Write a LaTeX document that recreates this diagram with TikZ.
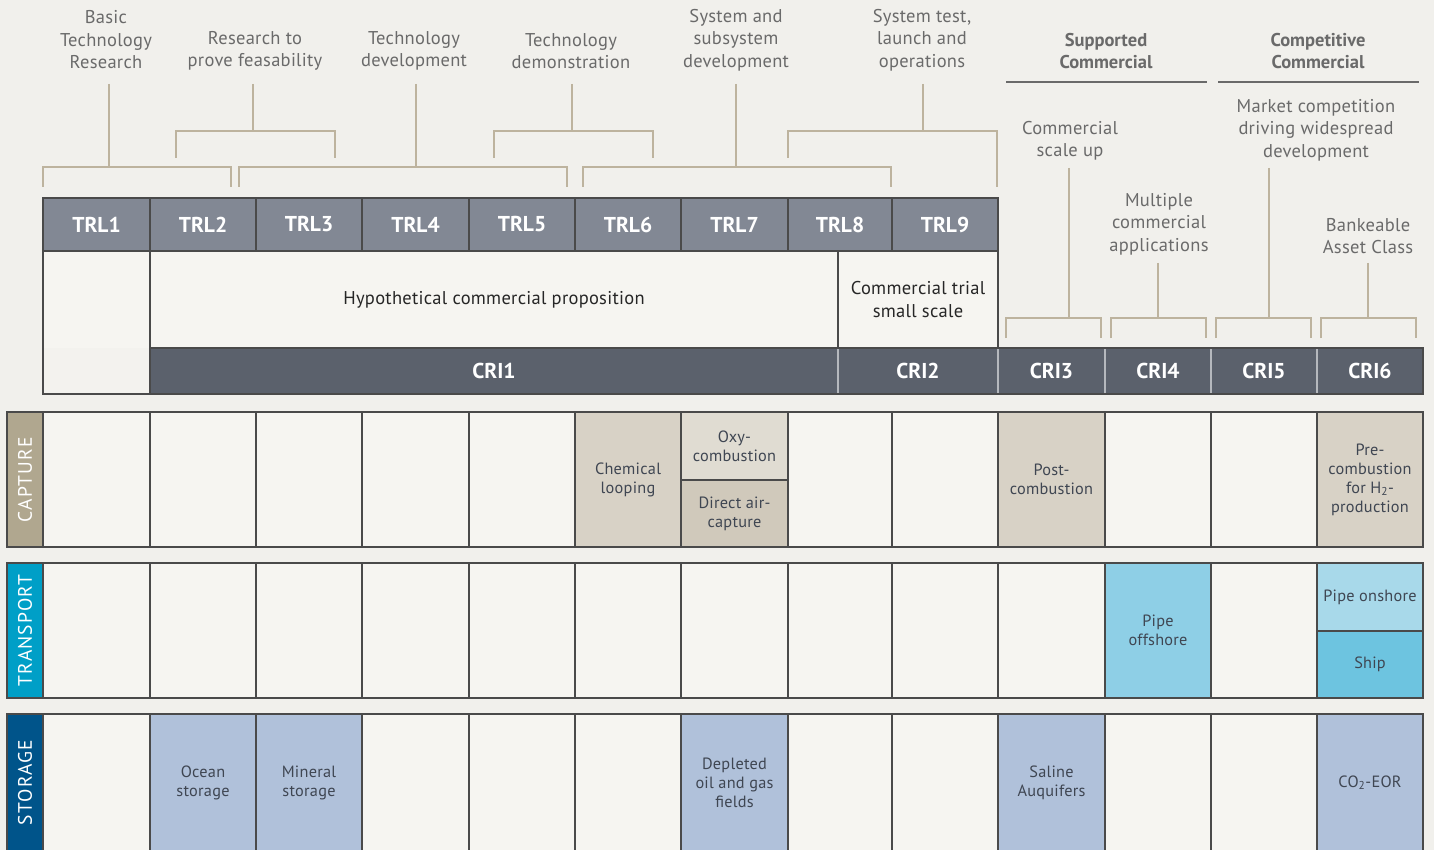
\documentclass[tikz,border=0pt]{standalone}
\usepackage{fontspec}
\setmainfont{PT Sans}
\usepackage{tikz}
\usetikzlibrary{positioning,calc}
\definecolor{paper}{HTML}{F1F0EC}
\definecolor{cellbg}{HTML}{F6F5F1}
\definecolor{frame}{HTML}{4A4A4A}
\definecolor{trlgrey}{HTML}{828894}
\definecolor{crigrey}{HTML}{5B616C}
\definecolor{celltext}{HTML}{3F4652}
\definecolor{captiontext}{HTML}{6A6A6A}
\definecolor{tan}{HTML}{BDB39E}
\definecolor{capturelane}{HTML}{B0A78F}
\definecolor{transportlane}{HTML}{009FC7}
\definecolor{storagelane}{HTML}{00548A}
\definecolor{capfill}{HTML}{D8D2C6}
\definecolor{oxyfill}{HTML}{E0DCD2}
\definecolor{dacfill}{HTML}{D0C9BB}
\definecolor{offshorefill}{HTML}{8ECFE6}
\definecolor{onshorefill}{HTML}{A8D9EA}
\definecolor{shipfill}{HTML}{6DC4E0}
\definecolor{storefill}{HTML}{B0C1DA}
\tikzset{%
  cell/.style={draw=frame, fill=cellbg, line width=1.2pt, rectangle, inner sep=0pt,
    outer sep=0pt, align=center, text=celltext,
    font=\fontsize{16.3}{19}\selectfont\addfontfeature{LetterSpace=1.5}},% plain cell
  trl/.style={cell, fill=trlgrey, text=white,
    font=\fontsize{21.5}{24}\selectfont\bfseries},% TRL header
  cri/.style={cell, draw=white!55!crigrey, fill=crigrey, text=white,
    font=\fontsize{21.5}{24}\selectfont\bfseries},% CRI header
  note/.style={cell, text=black!85,
    font=\fontsize{18.5}{23}\selectfont\addfontfeature{LetterSpace=1.5}},% commercial row
  phase/.style={align=center, text=captiontext,
    font=\fontsize{18.5}{22.5}\selectfont\addfontfeature{LetterSpace=1.5}},% phase caption
  market/.style={phase, font=\fontsize{18.5}{22.5}\selectfont\bfseries},% commercial caption
  bracket/.style={draw=tan, line width=1.2pt},% caption brackets
  lane/.style={cell, rotate=90, text=white,
    font=\fontsize{19.5}{20}\selectfont\addfontfeature{LetterSpace=6}}% lane label
}
% name, style, x1, y1, x2, y2, text
\newcommand*{\cellbox}[7]{%
  \node[#2, minimum width={#5-#3}, minimum height={#6-#4}] (#1) at ({(#3+#5)/2},{(#4+#6)/2}) {#7};}
% stem x, stem top, bar y, left x, right x, left foot, right foot
\newcommand*{\phasebracket}[7]{%
  \draw[bracket] (#1,#2) -- (#1,#3);
  \draw[bracket] (#4,#6) |- (#5,#3) -- (#5,#7);}

\begin{document}
\begin{tikzpicture}[x=1pt, y=-1pt]
\fill[paper] (0,0) rectangle (1434,850);
\useasboundingbox (0,0) rectangle (1434,850);

% captions over the TRL row
\node[phase] (basic)   at (106,40)  {Basic\\Technology\\Research};
\node[phase] (feas)    at (255,51)  {Research to\\prove feasability};
\node[phase] (techdev) at (414,51)  {Technology\\development};
\node[phase] (demo)    at (571,51)  {Technology\\demonstration};
\node[phase] (sysdev)  at (736,40)  {System and\\subsystem\\development};
\node[phase] (systest) at (922,40)  {System test,\\launch and\\operations};
\node[market] (supp)   at (1106,51) {Supported\\Commercial};
\node[market] (comp)   at (1318,51) {Competitive\\Commercial};
\node[phase] (scale)   at (1070,141) {Commercial\\scale up};
\node[phase] (multi)   at (1159,224) {Multiple\\commercial\\applications};
\node[phase] (mkt)     at (1316,130) {Market competition\\driving widespread\\development};
\node[phase] (bank)    at (1368,236) {Bankeable\\Asset Class};

\draw[captiontext, line width=1.2pt] (1006,82) -- (1207,82);
\draw[captiontext, line width=1.2pt] (1218,82) -- (1419,82);

\phasebracket{109}{84}{167}{43}{231}{187}{187}
\phasebracket{253}{84}{131}{176}{335}{158}{158}
\phasebracket{416}{84}{167}{239}{567}{187}{187}
\phasebracket{572}{84}{131}{494}{653}{158}{158}
\phasebracket{736}{84}{167}{583}{891}{187}{187}
\phasebracket{923}{84}{131}{788}{997}{158}{187}
\phasebracket{1069}{168}{318}{1006}{1101}{338}{338}
\phasebracket{1158}{263}{318}{1111}{1206}{338}{338}
\phasebracket{1269}{168}{318}{1216}{1311}{338}{338}
\phasebracket{1368}{263}{318}{1321}{1416}{338}{338}

% TRL row
\foreach \a/\b [count=\i] in {43/150,150/256,256/362,362/469,469/575,575/681,681/788,788/892,892/998}
  \cellbox{trl\i}{trl}{\a}{198}{\b}{251}{TRL\i};

% commercial proposition and CRI rows
\cellbox{blank}{cell, draw=none}{43}{251}{150}{348}{};
\cellbox{blankcri}{cell, draw=none, fill=paper!60!cellbg}{43}{348}{150}{394}{};
\draw[frame, line width=1.2pt] (blank.north west) rectangle (blankcri.south east);
\cellbox{hypo}{note}{150}{251}{838}{348}{Hypothetical commercial proposition};
\cellbox{trial}{note}{838}{251}{998}{348}{Commercial trial\\small scale};
\cellbox{cri1}{cri}{150}{348}{838}{394}{CRI1};
\cellbox{cri2}{cri}{838}{348}{998}{394}{CRI2};
\foreach \a/\b [count=\i from 3] in {998/1105,1105/1211,1211/1317,1317/1423}
  \cellbox{cri\i}{cri}{\a}{348}{\b}{394}{CRI\i};
\draw[frame, line width=1.2pt] (cri1.north west) rectangle (cri6.south east);

% lanes
\node[lane, fill=capturelane, minimum width=135, minimum height=36] (capture) at (25,479.5) {CAPTURE};
\node[lane, fill=transportlane, minimum width=135, minimum height=36] (transport) at (25,630.5) {TRANSPORT};
\node[lane, fill=storagelane, minimum width=137, minimum height=36] (storage) at (25,782.5) {STORAGE};
\foreach \a/\b [count=\i] in {43/150,150/256,256/362,362/469,469/575,575/681,681/788,788/892,892/998,998/1105,1105/1211,1211/1317,1317/1423}{
  \cellbox{cap\i}{cell}{\a}{412}{\b}{547}{};
  \cellbox{tra\i}{cell}{\a}{563}{\b}{698}{};
  \cellbox{sto\i}{cell}{\a}{714}{\b}{851}{};
}

% capture technologies
\cellbox{chem}{cell, fill=capfill}{575}{412}{681}{547}{Chemical\\looping};
\cellbox{oxy}{cell, fill=oxyfill}{681}{412}{788}{480}{Oxy-\\combustion};
\cellbox{dac}{cell, fill=dacfill}{681}{480}{788}{547}{Direct air-\\capture};
\cellbox{post}{cell, fill=capfill}{998}{412}{1105}{547}{Post-\\combustion};
\cellbox{pre}{cell, fill=capfill}{1317}{412}{1423}{547}{Pre-\\combustion\\for H\textsubscript{2}-\\production};

% transport technologies
\cellbox{offshore}{cell, fill=offshorefill}{1105}{563}{1211}{698}{Pipe\\offshore};
\cellbox{onshore}{cell, fill=onshorefill}{1317}{563}{1423}{631}{Pipe onshore};
\cellbox{ship}{cell, fill=shipfill}{1317}{631}{1423}{698}{Ship};

% storage technologies
\cellbox{ocean}{cell, fill=storefill}{150}{714}{256}{851}{Ocean\\storage};
\cellbox{mineral}{cell, fill=storefill}{256}{714}{362}{851}{Mineral\\storage};
\cellbox{depleted}{cell, fill=storefill}{681}{714}{788}{851}{Depleted\\oil and gas\\fields};
\cellbox{saline}{cell, fill=storefill}{998}{714}{1105}{851}{Saline\\Auquifers};
\cellbox{eor}{cell, fill=storefill}{1317}{714}{1423}{851}{CO\textsubscript{2}-EOR};

\end{tikzpicture}
\end{document}
